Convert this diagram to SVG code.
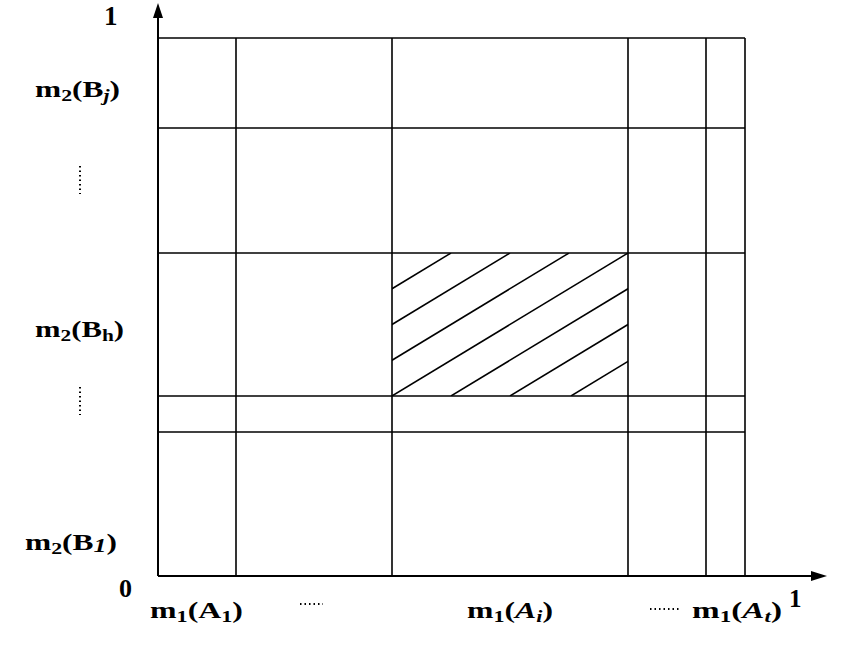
<svg xmlns="http://www.w3.org/2000/svg" width="865" height="648" viewBox="0 0 865 648">
<defs>
<style>
.g{stroke:#000;stroke-width:1.6;fill:none}
.ax{stroke:#000;stroke-width:2;fill:none}
.h{stroke:#000;stroke-width:1.5;fill:none}
.dots{stroke:#000;stroke-width:2;stroke-dasharray:1.5 3;fill:none}
</style>
<clipPath id="hc"><rect x="392" y="253" width="236" height="143"/></clipPath>
</defs>
<rect width="865" height="648" fill="#fff"/>
<g id="connectors">
<g id="axes">
<line class="ax" x1="158" y1="576" x2="158" y2="16"/>
<polygon points="158,3 153,18 163,18" fill="#000"/>
<line class="ax" x1="158" y1="576" x2="813" y2="576"/>
<polygon points="827,576 811,571 811,581" fill="#000"/>
</g>
<g id="grid">
<line class="g" x1="158" y1="38" x2="745" y2="38"/>
<line class="g" x1="158" y1="128" x2="745" y2="128"/>
<line class="g" x1="158" y1="253" x2="745" y2="253"/>
<line class="g" x1="158" y1="396" x2="745" y2="396"/>
<line class="g" x1="158" y1="432" x2="745" y2="432"/>
<line class="g" x1="236" y1="38" x2="236" y2="576"/>
<line class="g" x1="392" y1="38" x2="392" y2="576"/>
<line class="g" x1="628" y1="38" x2="628" y2="576"/>
<line class="g" x1="706" y1="38" x2="706" y2="576"/>
<line class="g" x1="745" y1="38" x2="745" y2="576"/>
</g>
<g id="hatch" clip-path="url(#hc)">
<line class="h" x1="215" y1="396" x2="451" y2="253"/>
<line class="h" x1="274" y1="396" x2="510" y2="253"/>
<line class="h" x1="333" y1="396" x2="569" y2="253"/>
<line class="h" x1="392" y1="396" x2="628" y2="253"/>
<line class="h" x1="451" y1="396" x2="687" y2="253"/>
<line class="h" x1="510" y1="396" x2="746" y2="253"/>
<line class="h" x1="571" y1="396" x2="807" y2="253"/>
</g>
</g>
<g id="labels" font-family="'Liberation Serif', 'Times New Roman', serif" font-weight="bold" font-size="23" fill="#000">
<text x="104" y="25" font-size="27">1</text>
<text x="119" y="597" font-size="26">0</text>
<text x="789" y="607" font-size="25">1</text>
<text x="35" y="97" textLength="85" lengthAdjust="spacingAndGlyphs">m<tspan font-size="16" dy="4">2</tspan><tspan dy="-4">(B</tspan><tspan font-size="16" font-style="italic" dy="4">j</tspan><tspan dy="-4">)</tspan></text>
<text x="35" y="337" textLength="89" lengthAdjust="spacingAndGlyphs">m<tspan font-size="16" dy="4">2</tspan><tspan dy="-4">(B</tspan><tspan font-size="16" dy="4">h</tspan><tspan dy="-4">)</tspan></text>
<text x="25" y="550" textLength="92" lengthAdjust="spacingAndGlyphs">m<tspan font-size="16" dy="4">2</tspan><tspan dy="-4">(B</tspan><tspan font-size="19" font-style="italic" dy="2">1</tspan><tspan dy="-2">)</tspan></text>
<text x="150" y="618" textLength="93" lengthAdjust="spacingAndGlyphs">m<tspan font-size="16" dy="4">1</tspan><tspan dy="-4">(A</tspan><tspan font-size="16" dy="4">1</tspan><tspan dy="-4">)</tspan></text>
<text x="467" y="618" textLength="86" lengthAdjust="spacingAndGlyphs">m<tspan font-size="16" dy="4">1</tspan><tspan dy="-4">(</tspan><tspan font-style="italic">A</tspan><tspan font-size="16" font-style="italic" dy="4">i</tspan><tspan dy="-4">)</tspan></text>
<text x="692" y="618" textLength="90" lengthAdjust="spacingAndGlyphs">m<tspan font-size="16" dy="4">1</tspan><tspan dy="-4">(</tspan><tspan font-style="italic">A</tspan><tspan font-size="16" font-style="italic" dy="4">t</tspan><tspan dy="-4">)</tspan></text>
</g>
<g id="dotmarks">
<line class="dots" x1="80" y1="166" x2="80" y2="194"/>
<line class="dots" x1="80" y1="387" x2="80" y2="415"/>
<line class="dots" x1="300" y1="604" x2="323" y2="604"/>
<line class="dots" x1="650" y1="609" x2="679" y2="609"/>
</g>
</svg>
